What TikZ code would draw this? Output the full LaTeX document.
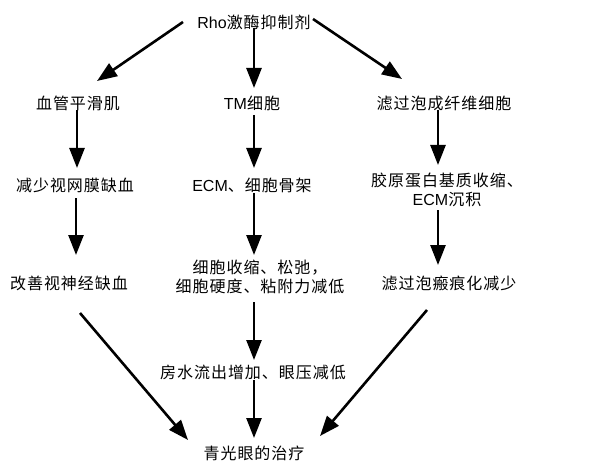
\documentclass[tikz,border=0pt]{standalone}
\usepackage{fontspec}
\setmainfont[LetterSpace=6]{Noto Sans CJK SC}
\newfontfamily\latfont{Liberation Sans}
\newcommand\lat[1]{{\latfont #1}}
\usetikzlibrary{arrows.meta}
\tikzset{
  lbl/.style={inner sep=0pt, align=center, font=\fontsize{16}{19.5}\selectfont},
  arr/.style={line width=2.6pt, -{Triangle[length=20pt,width=15pt]}}
}
\begin{document}
\begin{tikzpicture}[x=1pt,y=1pt]
\useasboundingbox (0,0) rectangle (612,461);
% y' = 461 - y
\node[lbl] (top)  at (254,439) {\lat{Rho}激酶抑制剂};
\node[lbl] (vsm)  at (78,358) {血管平滑肌};
\node[lbl] (tm)   at (252,358) {\lat{TM}细胞};
\node[lbl] (tf)   at (444,358) {滤过泡成纤维细胞};
\node[lbl] (ret)  at (75,276) {减少视网膜缺血};
\node[lbl] (ecm)  at (252,276) {\lat{ECM}、细胞骨架};
\node[lbl] (col)  at (447,271) {胶原蛋白基质收缩、\\\lat{ECM}沉积};
\node[lbl] (opt)  at (69,178) {改善视神经缺血};
\node[lbl] (cell) at (260,184) {细胞收缩、松弛，\\细胞硬度、粘附力减低};
\node[lbl] (scar) at (449,178) {滤过泡瘢痕化减少};
\node[lbl] (aq)   at (253,89) {房水流出增加、眼压减低};
\node[lbl] (glau) at (254,8) {青光眼的治疗};

\draw[arr] ([shift={(-71,0)}]top.center) -- ([shift={(19,22)}]vsm.center);
\draw[arr] ([shift={(0,-6)}]top.center) -- ([shift={(2,15)}]tm.center);
\draw[arr] ([shift={(59,3)}]top.center) -- ([shift={(-42,24)}]tf.center);
\draw[arr] ([shift={(-1,-7)}]vsm.center) -- ([shift={(2,17)}]ret.center);
\draw[arr] ([shift={(2,-12)}]tm.center) -- ([shift={(2,17)}]ecm.center);
\draw[arr] ([shift={(-6,-7)}]tf.center) -- ([shift={(-9,25)}]col.center);
\draw[arr] ([shift={(1,-13)}]ret.center) -- ([shift={(7,28)}]opt.center);
\draw[arr] ([shift={(2,-8)}]ecm.center) -- ([shift={(-6,22)}]cell.center);
\draw[arr] ([shift={(-9,-20)}]col.center) -- ([shift={(-11,18)}]scar.center);
\draw[arr] ([shift={(-6,-25)}]cell.center) -- ([shift={(1,12)}]aq.center);
\draw[arr] ([shift={(11,-30)}]opt.center) -- ([shift={(-66,13)}]glau.center);
\draw[arr] ([shift={(1,-8)}]aq.center) -- ([shift={(0,15)}]glau.center);
\draw[arr] ([shift={(-22,-27)}]scar.center) -- ([shift={(66,17)}]glau.center);
\end{tikzpicture}
\end{document}
